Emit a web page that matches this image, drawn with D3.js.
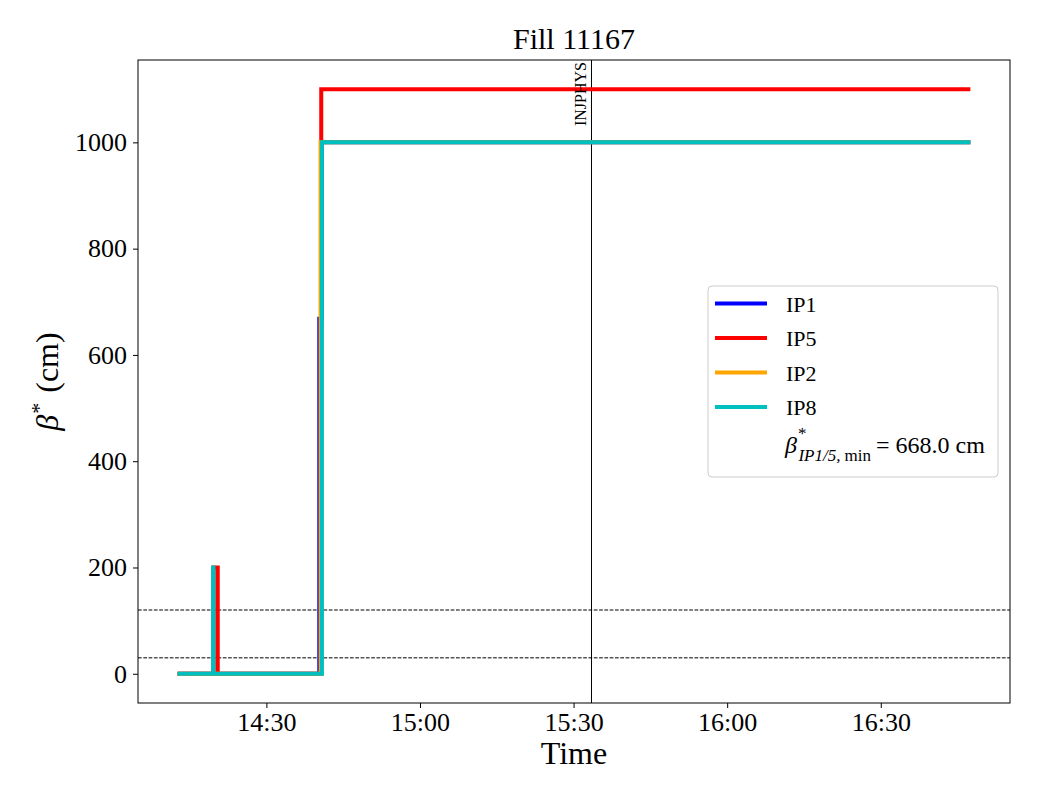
<!DOCTYPE html>
<html>
<head>
<meta charset="utf-8">
<script src="https://cdn.jsdelivr.net/npm/d3@7"></script>
<style>
    body { margin: 0; background: #fff; }
    svg text { font-family: "Liberation Serif", "DejaVu Serif", serif; fill: #000; }
</style>
</head>
<body>
<svg width="1040" height="800"></svg>
<script>
// step data, value held until next time stamp
const ip1Times = ["14:12:40", "14:40:20", "14:40:50", "16:47:30"];
const ip1Values = [0, 668, 1000, 1000];
const ip5Times = ["14:12:40", "14:19:40", "14:20:30", "14:40:43", "16:47:30"];
const ip5Values = [0, 200, 0, 1100, 1100];
const ip2Times = ["14:12:40", "14:40:35", "16:47:30"];
const ip2Values = [0, 1000, 1000];
const ip8Times = ["14:12:40", "14:19:36", "14:19:40", "14:40:51", "16:47:30"];
const ip8Values = [0, 200, 0, 1000, 1000];

const seriesNames = ["IP1", "IP5", "IP2", "IP8"];
const seriesColors = ["#0000ff", "#ff0000", "#ffa500", "#00bfbf"];
const refLines = [30, 120];
const markerTime = "15:33:30";
const markerLabel = "INJPHYS";
const betaMin = 668.0;
const yTicks = [0, 200, 400, 600, 800, 1000];
const xTickTimes = ["14:30", "15:00", "15:30", "16:00", "16:30"];

const parseTime = function (s) {
    const p = s.split(":").map(Number);
    return new Date(2025, 0, 1, p[0], p[1], p[2] || 0);
};

const svg = d3.select("svg"),
    margin = {left: 138, right: 30, top: 60, bottom: 97},
    width = +svg.attr("width"),
    height = +svg.attr("height");

const series = [
    [ip1Times, ip1Values], [ip5Times, ip5Values],
    [ip2Times, ip2Values], [ip8Times, ip8Values]
].map(function (s, i) {
    return {
        name: seriesNames[i],
        color: seriesColors[i],
        points: s[0].map(function (t, j) {
            return {t: parseTime(t), v: s[1][j]};
        })
    };
});

const allPts = series.flatMap(function (s) { return s.points; });
const tExt = d3.extent(allPts, function (d) { return d.t; });
const vExt = d3.extent(allPts, function (d) { return d.v; });
const tPad = (tExt[1] - tExt[0]) * 0.05, vPad = (vExt[1] - vExt[0]) * 0.05;

const x = d3.scaleTime()
    .domain([new Date(+tExt[0] - tPad), new Date(+tExt[1] + tPad)])
    .range([margin.left, width - margin.right]);
const y = d3.scaleLinear()
    .domain([vExt[0] - vPad, vExt[1] + vPad])
    .range([height - margin.bottom, margin.top]);

// reference lines
svg.selectAll("line.ref")
    .data(refLines)
    .enter().append("line")
    .attr("x1", margin.left).attr("x2", width - margin.right)
    .attr("y1", function (d) { return y(d); })
    .attr("y2", function (d) { return y(d); })
    .attr("stroke", "#000").attr("stroke-width", 1)
    .attr("stroke-dasharray", "3.7,1.6");

const mx = x(parseTime(markerTime));
svg.append("line")
    .attr("x1", mx).attr("x2", mx)
    .attr("y1", margin.top).attr("y2", height - margin.bottom)
    .attr("stroke", "#000").attr("stroke-width", 1);

const line = d3.line()
    .x(function (d) { return x(d.t); })
    .y(function (d) { return y(d.v); })
    .curve(d3.curveStepAfter);

svg.append("g")
    .selectAll("path")
    .data(series)
    .enter().append("path")
    .attr("d", function (d) { return line(d.points); })
    .attr("fill", "none")
    .attr("stroke", function (d) { return d.color; })
    .attr("stroke-width", 4)
    .attr("stroke-linejoin", "miter");

svg.append("text")
    .attr("transform", "translate(" + (mx - 5) + "," + (margin.top + 2) + ") rotate(-90)")
    .attr("text-anchor", "end")
    .style("font-size", "16px")
    .text(markerLabel);

// axes
const xAxis = d3.axisBottom(x)
    .tickValues(xTickTimes.map(parseTime))
    .tickFormat(d3.timeFormat("%H:%M"))
    .tickSizeOuter(0).tickSize(5).tickPadding(5);
const yAxis = d3.axisLeft(y)
    .tickValues(yTicks)
    .tickFormat(d3.format("d"))
    .tickSizeOuter(0).tickSize(5).tickPadding(6);

const gx = svg.append("g")
    .attr("transform", "translate(0," + (height - margin.bottom) + ")")
    .call(xAxis);
const gy = svg.append("g")
    .attr("transform", "translate(" + margin.left + ",0)")
    .call(yAxis);
[gx, gy].forEach(function (g) {
    g.attr("font-family", null).attr("font-size", null);
    g.select(".domain").remove();
    g.selectAll("text")
        .style("font-family", "'Liberation Serif', serif")
        .style("font-size", "26px");
    g.selectAll("line").attr("stroke", "#000").attr("stroke-width", 1);
});

svg.append("rect")
    .attr("x", margin.left).attr("y", margin.top)
    .attr("width", width - margin.left - margin.right)
    .attr("height", height - margin.top - margin.bottom)
    .attr("fill", "none").attr("stroke", "#000").attr("stroke-width", 1);

svg.append("text")
    .attr("x", (margin.left + width - margin.right) / 2).attr("y", 49)
    .attr("text-anchor", "middle")
    .style("font-size", "30px")
    .text("Fill 11167");

svg.append("text")
    .attr("x", (margin.left + width - margin.right) / 2).attr("y", 764)
    .attr("text-anchor", "middle")
    .style("font-size", "32px")
    .text("Time");

const yl = svg.append("text")
    .attr("transform", "translate(58," + ((margin.top + height - margin.bottom) / 2) + ") rotate(-90)")
    .attr("text-anchor", "middle")
    .style("font-size", "32px");
yl.append("tspan").style("font-style", "italic").text("β");
yl.append("tspan").attr("dy", -12).attr("dx", 1).style("font-size", "22px").text("*");
yl.append("tspan").attr("dy", 12).attr("dx", 10).text("(cm)");

// legend
const lg = svg.append("g").attr("transform", "translate(708,286)");
lg.append("rect")
    .attr("width", 290).attr("height", 191).attr("rx", 4)
    .attr("fill", "#fff").attr("fill-opacity", 0.8)
    .attr("stroke", "#ccc").attr("stroke-width", 1);
const items = lg.selectAll("g.item")
    .data(series)
    .enter().append("g")
    .attr("transform", function (d, i) { return "translate(0," + (17.5 + i * 34.5) + ")"; });
items.append("line")
    .attr("x1", 7).attr("x2", 59)
    .attr("stroke", function (d) { return d.color; })
    .attr("stroke-width", 4);
items.append("text")
    .attr("x", 78).attr("y", 8)
    .style("font-size", "22px")
    .text(function (d) { return d.name; });

const bt = lg.append("text")
    .attr("x", 77).attr("y", 167)
    .style("font-size", "24px");
bt.append("tspan").style("font-style", "italic").text("β");
bt.append("tspan").attr("dy", -14).attr("dx", 1).style("font-size", "17px").text("*");
bt.append("tspan").attr("dy", 22).attr("dx", -8).style("font-size", "17px")
    .style("font-style", "italic").text("IP1/5,");
bt.append("tspan").attr("dx", 4).style("font-size", "17px").text("min");
bt.append("tspan").attr("dy", -8).attr("dx", 5).text("=");
bt.append("tspan").attr("dx", 6).text(betaMin.toFixed(1) + " cm");
</script>
</body>
</html>
